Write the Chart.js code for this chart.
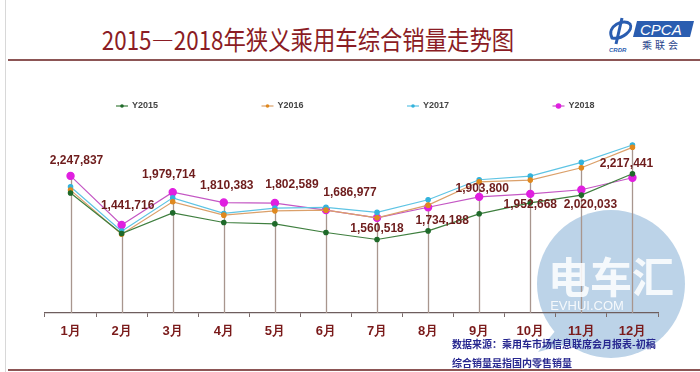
<!DOCTYPE html>
<html lang="zh">
<head>
    <meta charset="UTF-8">
    <title>2015—2018年狭义乘用车综合销量走势图</title>
    <script src="https://cdn.jsdelivr.net/npm/chart.js"></script>
    <style>
        body {
            margin: 0;
            width: 700px;
            height: 372px;
            position: relative;
            overflow: hidden;
            background: #fff;
            font-family: "Noto Sans CJK SC", "Liberation Sans", sans-serif;
        }

        #title {
            position: absolute;
            left: 308px;
            top: 38px;
            transform: translate(-50%, -50%) scaleX(0.86);
            white-space: nowrap;
            font-size: 26px;
            color: #8b1c24;
        }

        .rule {
            position: absolute;
            left: 8px;
            right: 0;
            height: 2px;
            background: #8c5555;
        }

        #leftBorder {
            position: absolute;
            left: 5px;
            top: 0;
            bottom: 0;
            width: 1px;
            background: #d8d8d8;
        }

        #chartBox {
            position: absolute;
            left: 0;
            top: 80px;
        }

        .note {
            position: absolute;
            left: 452px;
            font-size: 10px;
            font-weight: bold;
            color: #26268f;
            white-space: nowrap;
        }

        .mark {
            position: absolute;
            left: 0;
            top: 0;
            pointer-events: none;
        }
    </style>
</head>
<body>
    <div id="leftBorder"></div>
    <div id="title">2015—2018年狭义乘用车综合销量走势图</div>

    <!-- CPCA logo -->
    <svg style="position:absolute;left:604px;top:16px" width="96" height="40">
        <path d="M8 22 C 2 10, 20 2, 26 8 C 30 14, 18 24, 8 22 Z" fill="none" stroke="#2a5db0" stroke-width="3"/>
        <path d="M18 2 L 12 28" stroke="#2a5db0" stroke-width="3"/>
        <text x="5" y="36" font-size="6" font-style="italic" font-weight="bold" fill="#2a5db0" font-family="Liberation Sans">CRDR</text>
        <path d="M33 5 L 90 5 L 86 21 L 29 21 Z" fill="#2a5db0"/>
        <text x="36" y="19" font-size="15" font-style="italic" fill="#fff" font-family="Liberation Sans">CPCA</text>
        <text x="38" y="33" font-size="10" fill="#1f3f8a" letter-spacing="3" font-family="Noto Sans CJK SC">乘联会</text>
    </svg>

    <div class="rule" style="top:59px"></div>

    <!-- watermark disc sits behind the chart -->
    <svg class="mark" width="700" height="372">
        <g fill="#bcd3e8">
            <circle cx="611" cy="284" r="74"/>
            <path d="M556 330 L 538 352 L 575 342 Z"/>
        </g>
    </svg>

    <div id="chartBox">
        <canvas id="salesChart" width="700" height="290"></canvas>
    </div>

    <div class="note" style="top:336px">数据来源：乘用车市场信息联席会月报表-初稿</div>
    <div class="note" style="top:355px">综合销量是指国内零售销量</div>
    <div class="rule" style="top:369px"></div>

    <!-- watermark lettering over the chart -->
    <svg class="mark" width="700" height="372">
        <text x="611" y="293" text-anchor="middle" font-size="42" font-weight="bold" fill="#fff" opacity="0.85"
              font-family="Noto Sans CJK SC">电车汇</text>
        <text x="587" y="310" text-anchor="middle" font-size="13" fill="#fff" opacity="0.85"
              font-family="Liberation Sans">EVHUI.COM</text>
    </svg>

    <script>
        const months = ['1月', '2月', '3月', '4月', '5月', '6月', '7月', '8月', '9月', '10月', '11月', '12月'];

        // monthly sales (2018 from the labels)
        const y2015 = [1966000, 1304000, 1642000, 1484000, 1461000, 1320000, 1205000, 1346000, 1626000, 1806000, 1933000, 2282000];
        const y2016 = [2015000, 1292000, 1823000, 1604000, 1675000, 1686000, 1560000, 1768000, 2151000, 2179000, 2381000, 2716000];
        const y2017 = [2069000, 1342000, 1888000, 1632000, 1719000, 1731000, 1649000, 1856000, 2184000, 2245000, 2470000, 2754000];
        const y2018 = [2247837, 1441716, 1979714, 1810383, 1802589, 1686977, 1560518, 1734188, 1903800, 1952668, 2020033, 2217441];

        const seriesNames = ['Y2015', 'Y2016', 'Y2017', 'Y2018'];

        // where each 2018 label sits relative to its point
        const labelShift = [[6, -15], [6, -19], [-4, -18], [3, -17], [17, -18], [24, -17],
                            [0, 11], [14, 13], [3, -8], [0, 11], [9, 15], [-6, -14]];

        function series(name, values, line, dot, r) {
            return {
                label: name,
                data: values,
                borderColor: line,
                backgroundColor: dot,
                pointBackgroundColor: dot,
                pointBorderColor: dot,
                pointRadius: r,
                borderWidth: 1.2,
                tension: 0
            };
        }

        // vertical lines from the highest point of each month down to the axis
        const dropLines = {
            id: 'dropLines',
            beforeDatasetsDraw(chart) {
                const ctx = chart.ctx;
                const bottom = chart.chartArea.bottom;
                ctx.save();
                ctx.strokeStyle = '#a8968e';
                ctx.lineWidth = 1.3;
                months.forEach((m, i) => {
                    let top = bottom;
                    let x = 0;
                    chart.data.datasets.forEach((ds, d) => {
                        const pt = chart.getDatasetMeta(d).data[i];
                        x = pt.x;
                        top = Math.min(top, pt.y);
                    });
                    ctx.beginPath();
                    ctx.moveTo(Math.round(x) + 0.5, top);
                    ctx.lineTo(Math.round(x) + 0.5, bottom);
                    ctx.stroke();
                });
                ctx.restore();
            }
        };

        // value labels on the 2018 line
        const valueLabels = {
            id: 'valueLabels',
            afterDatasetsDraw(chart) {
                const ctx = chart.ctx;
                const pts = chart.getDatasetMeta(3).data;
                ctx.save();
                ctx.font = 'bold 12px "Liberation Sans"';
                ctx.fillStyle = '#6e1c1c';
                ctx.textAlign = 'center';
                ctx.textBaseline = 'middle';
                y2018.forEach((v, i) => {
                    const p = pts[i];
                    ctx.fillText(v.toLocaleString('en-US'), p.x + labelShift[i][0], p.y + labelShift[i][1]);
                });
                ctx.restore();
            }
        };

        // legend row, spread across the top of the plot
        const legendRow = {
            id: 'legendRow',
            afterDraw(chart) {
                const ctx = chart.ctx;
                const y = 26;
                ctx.save();
                ctx.font = 'bold 9px "Liberation Sans"';
                ctx.textBaseline = 'middle';
                chart.data.datasets.forEach((ds, i) => {
                    const cx = 122 + i * 145.5;
                    ctx.strokeStyle = ds.borderColor;
                    ctx.lineWidth = 1.2;
                    ctx.beginPath();
                    ctx.moveTo(cx - 6, y);
                    ctx.lineTo(cx + 6, y);
                    ctx.stroke();
                    ctx.fillStyle = ds.pointBackgroundColor;
                    ctx.beginPath();
                    ctx.arc(cx, y, i === 3 ? 2.8 : 1.8, 0, Math.PI * 2);
                    ctx.fill();
                    ctx.fillStyle = '#444';
                    ctx.fillText(ds.label, cx + 10, y);
                });
                ctx.restore();
            }
        };

        const ctx = document.getElementById('salesChart').getContext('2d');
        new Chart(ctx, {
            type: 'line',
            data: {
                labels: months,
                datasets: [
                    series(seriesNames[0], y2015, '#3f7f3f', '#1f6a2a', 2.2),
                    series(seriesNames[1], y2016, '#dba06a', '#e0891e', 2.2),
                    series(seriesNames[2], y2017, '#5ec4e4', '#33b3dc', 2.2),
                    series(seriesNames[3], y2018, '#c457c4', '#e01fe0', 3.6)
                ]
            },
            options: {
                responsive: false,
                animation: false,
                devicePixelRatio: 1,
                layout: {
                    padding: {left: 45, right: 42, top: 50, bottom: 17}
                },
                scales: {
                    x: {
                        offset: true,
                        grid: {
                            display: true,
                            offset: true,
                            drawOnChartArea: false,
                            drawTicks: true,
                            tickLength: 4,
                            color: '#7a6a6a'
                        },
                        border: {display: true, color: '#6e5e5e', width: 1.3},
                        ticks: {
                            padding: 7,
                            color: '#7a1a1a',
                            font: {family: '"Liberation Sans"', size: 13, weight: 'bold'}
                        },
                        afterFit(scale) {
                            scale.height = 40;
                        }
                    },
                    y: {
                        display: false,
                        min: 0,
                        max: 3000000
                    }
                },
                plugins: {
                    legend: {display: false},
                    tooltip: {enabled: false}
                }
            },
            plugins: [dropLines, valueLabels, legendRow]
        });
    </script>
</body>
</html>
